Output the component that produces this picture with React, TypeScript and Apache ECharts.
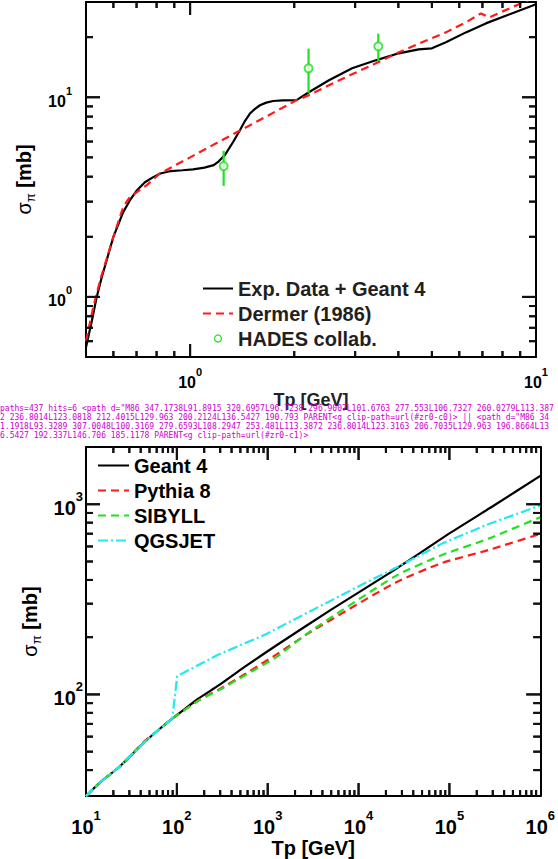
import React, { useEffect, useRef } from 'react';
import * as echarts from 'echarts';

// ---------- top panel (pp -> pi0, low energy) ----------
const expGeantE = [0.5, 0.52, 0.537, 0.555, 0.574, 0.6, 0.64, 0.67, 0.7, 0.74, 0.78, 0.82, 0.88, 0.95, 1.02, 1.1, 1.17, 1.21, 1.26, 1.33, 1.393, 1.44, 1.489, 1.54, 1.592, 1.66, 1.739, 1.85, 2.03, 2.21, 2.52, 2.94, 3.44, 4.01, 4.58, 5.0, 5.49, 6.27, 7.16, 8.51, 10];
const expGeantSigma = [0.56, 0.76, 1.0, 1.25, 1.53, 2.0, 2.65, 3.05, 3.4, 3.75, 3.97, 4.15, 4.27, 4.31, 4.35, 4.44, 4.57, 4.78, 5.13, 5.95, 6.84, 7.6, 8.29, 8.75, 9.12, 9.4, 9.58, 9.64, 9.68, 10.63, 12.16, 13.96, 15.31, 16.6, 17.38, 17.58, 18.84, 21.13, 23.44, 26.3, 29.2];

const dermerE = [0.5, 0.525, 0.55, 0.58, 0.6, 0.641, 0.67, 0.7, 0.749, 0.818, 1.0, 1.2, 1.4, 1.6, 1.8, 2.03, 2.205, 2.519, 2.936, 3.444, 4.014, 4.68, 5.49, 6.27, 6.93, 7.31, 8.51, 10];
const dermerSigma = [0.6, 0.89, 1.22, 1.65, 2.0, 2.83, 3.17, 3.34, 3.63, 4.15, 5.0, 5.93, 6.84, 7.74, 8.64, 9.66, 10.23, 11.48, 13.03, 14.79, 16.79, 18.84, 21.13, 23.71, 26.3, 25.1, 28.2, 31.9];

const hadesE = [1.25, 2.2, 3.5];
const hadesSigma = [4.52, 13.96, 17.99];
const hadesLow = [3.6, 10.51, 15.19];
const hadesHigh = [5.39, 17.52, 20.82];

const topXLabels = [1, 10];
const topYLabels = [1, 10];
const topXMinor = [0.6, 0.7, 0.8, 0.9, 2, 3, 4, 5, 6, 7, 8, 9];
const topYMinor = [0.6, 0.7, 0.8, 0.9, 2, 3, 4, 5, 6, 7, 8, 9, 20];

// ---------- bottom panel (high energy) ----------
const geant4E = [10, 14.2, 23.5, 42, 64, 89, 103, 175, 288, 562, 1265, 5000, 23700, 98000, 300000, 1000000];
const geant4Sigma = [29.2, 34.4, 41.8, 55, 65.6, 74.6, 78.7, 95.5, 111.5, 140, 182, 279, 445, 698, 976, 1410];

const pythiaE = [10, 14.2, 23.5, 42, 64, 89, 103, 175, 288, 562, 1265, 2917, 25700, 82800, 267000, 1000000];
const pythiaSigma = [29.2, 34.4, 41.8, 55.5, 65.6, 74.6, 78.5, 93.5, 106, 128, 163, 212, 388, 491, 574, 698];

const sibyllE = [10, 14.2, 23.5, 42, 64, 89, 103, 175, 288, 562, 1265, 2917, 25700, 82800, 267000, 1000000];
const sibyllSigma = [29.2, 34.4, 41.8, 55, 65.6, 74.6, 78.3, 93, 105, 126, 158, 214, 420, 541, 658, 855];

const qgsjetE = [10, 14.2, 23.5, 42, 64, 89, 101, 288, 929, 12100, 25700, 82800, 267000, 1000000];
const qgsjetSigma = [29.2, 34.4, 41.8, 55, 65.6, 74.6, 125, 162, 206, 388, 463, 621, 785, 985];

const botXLabels = [10, 100, 1000, 10000, 100000, 1000000];
const botYLabels = [100, 1000];
const botXMinor = [20, 30, 40, 50, 60, 70, 80, 90, 200, 300, 400, 500, 600, 700, 800, 900, 2000, 3000, 4000, 5000, 6000, 7000, 8000, 9000, 20000, 30000, 40000, 50000, 60000, 70000, 80000, 90000, 200000, 300000, 400000, 500000, 600000, 700000, 800000, 900000];
const botYMinor = [40, 50, 60, 70, 80, 90, 200, 300, 400, 500, 600, 700, 800, 900];

const FONT = "'Liberation Sans', Arial, Helvetica, sans-serif";
const RED = '#ff1a1a';
const GREEN = '#22e022';
const CYAN = '#22e8f0';

const TOP_X = [0.5, 10];
const TOP_Y = [0.5, 30];
const BOT_X = [10, 1000000];
const BOT_Y = [29.2, 2000];

const zip = (xs: number[], ys: number[]) => xs.map((x, i) => [x, ys[i]]);

const powLabel = (v: number) => {
  const l = Math.log10(v);
  const e = Math.round(l);
  if (Math.abs(l - e) > 1e-6) return '';
  return `{m|10}{s|${e}}`;
};

const rich = (fs: number, ss: number) => ({
  m: { fontSize: fs, fontWeight: 'bold', fontFamily: FONT, color: '#000', lineHeight: fs + 8, verticalAlign: 'bottom' },
  s: { fontSize: ss, fontWeight: 'bold', fontFamily: FONT, color: '#000', lineHeight: ss, verticalAlign: 'top' },
});

const nameRich = {
  g: { fontSize: 20, fontFamily: FONT, color: '#000', lineHeight: 26 },
  p: { fontSize: 13, fontFamily: FONT, color: '#000', lineHeight: 13, verticalAlign: 'bottom' },
  t: { fontSize: 20, fontWeight: 'bold', fontFamily: FONT, color: '#000', lineHeight: 26 },
};

function makeAxis(o: any) {
  return {
    type: 'log',
    logBase: 10,
    gridIndex: o.grid,
    position: o.position,
    min: o.range[0],
    max: o.range[1],
    axisLine: { show: true, onZero: false, lineStyle: { color: '#000', width: 2 } },
    splitLine: { show: false },
    axisTick: { show: false },
    axisLabel: o.labels
      ? {
          show: true,
          customValues: o.ticks,
          margin: o.margin,
          formatter: powLabel,
          rich: rich(o.fs, o.ss),
        }
      : { show: false },
    name: o.name || '',
    nameLocation: 'middle',
    nameGap: o.nameGap || 0,
    nameRotate: o.nameRotate,
    nameTextStyle: o.nameStyle,
  };
}

// tick items in data space: [x, y, dx(px), dy(px)]
function tickItems(xMajor: number[], xMinor: number[], yMajor: number[], yMinor: number[], xr: number[], yr: number[]) {
  const out: number[][] = [];
  const xs = (vals: number[], len: number) => vals.forEach((v) => {
    if (v <= xr[0] || v >= xr[1]) return;
    out.push([v, yr[0], 0, -len]);
    out.push([v, yr[1], 0, len]);
  });
  const ys = (vals: number[], len: number) => vals.forEach((v) => {
    if (v <= yr[0] || v >= yr[1]) return;
    out.push([xr[0], v, len, 0]);
    out.push([xr[1], v, -len, 0]);
  });
  xs(xMajor, 13); xs(xMinor, 6); ys(yMajor, 14); ys(yMinor, 7);
  return out;
}

const tickSeries = (idx: number, data: number[][]) => ({
  name: 'ticks' + idx, type: 'custom', xAxisIndex: idx, yAxisIndex: idx, z: 6, silent: true,
  data, encode: { x: 0, y: 1 },
  renderItem: (params: any, api: any) => {
    const p = api.coord([api.value(0), api.value(1)]);
    return { type: 'line', shape: { x1: p[0], y1: p[1], x2: p[0] + api.value(2), y2: p[1] + api.value(3) }, style: { stroke: '#000', lineWidth: 2 } };
  },
});

export default function App() {
  const ref = useRef<HTMLDivElement>(null);
  const dbgRef = useRef<HTMLDivElement>(null);
  useEffect(() => {
    if (!ref.current) return;
    const chart = echarts.init(ref.current, undefined, { renderer: 'svg' });
    const option: any = {
      animation: false,
      backgroundColor: '#fff',
      grid: [
        { left: 86, top: 2, width: 450, height: 355, containLabel: false },
        { left: 86, top: 447, width: 459, height: 360, containLabel: false },
      ],
      xAxis: [
        makeAxis({ grid: 0, position: 'bottom', range: TOP_X, ticks: topXLabels, labels: true, margin: 9, fs: 16, ss: 11,
          name: 'Tp [GeV]', nameGap: 29, nameStyle: { fontSize: 18, fontWeight: 'bold', fontFamily: FONT, color: '#222' } }),
        makeAxis({ grid: 0, position: 'top', range: TOP_X, ticks: topXLabels, labels: false }),
        makeAxis({ grid: 1, position: 'bottom', range: BOT_X, ticks: botXLabels, labels: true, margin: 13, fs: 20, ss: 13,
          name: 'Tp [GeV]', nameGap: 29, nameStyle: { fontSize: 20, fontWeight: 'bold', fontFamily: FONT, color: '#000' } }),
        makeAxis({ grid: 1, position: 'top', range: BOT_X, ticks: botXLabels, labels: false }),
      ],
      yAxis: [
        makeAxis({ grid: 0, position: 'left', range: TOP_Y, ticks: topYLabels, labels: true, margin: 14, fs: 16, ss: 11,
          name: '{g|σ}{p|π}{t| [mb]}', nameGap: 46, nameRotate: 90, nameStyle: { rich: nameRich } }),
        makeAxis({ grid: 0, position: 'right', range: TOP_Y, ticks: topYLabels, labels: false }),
        makeAxis({ grid: 1, position: 'left', range: BOT_Y, ticks: botYLabels, labels: true, margin: 3, fs: 20, ss: 13,
          name: '{g|σ}{p|π}{t| [mb]}', nameGap: 41, nameRotate: 90, nameStyle: { rich: nameRich } }),
        makeAxis({ grid: 1, position: 'right', range: BOT_Y, ticks: botYLabels, labels: false }),
      ],
      legend: [
        {
          left: 202, top: 276, orient: 'vertical', padding: 0, itemGap: 0, itemWidth: 30, itemHeight: 7,
          selectedMode: false,
          itemStyle: { opacity: 0 },
          textStyle: { fontSize: 20, fontWeight: 'bold', fontFamily: FONT, color: '#231f20', lineHeight: 25 },
          data: [
            { name: 'Exp. Data + Geant 4' },
            { name: 'Dermer (1986)' },
            { name: 'HADES collab.', icon: 'circle', itemStyle: { opacity: 1, color: 'rgba(255,255,255,0)', borderColor: GREEN, borderWidth: 1.2 } },
          ],
        },
        {
          left: 97, top: 453, orient: 'vertical', padding: 0, itemGap: 0, itemWidth: 31, itemHeight: 7,
          selectedMode: false,
          itemStyle: { opacity: 0 },
          textStyle: { fontSize: 20, fontWeight: 'bold', fontFamily: FONT, color: '#000', lineHeight: 25 },
          data: ['Geant 4', 'Pythia 8', 'SIBYLL', 'QGSJET'],
        },
      ],
      series: [
        {
          name: 'Exp. Data + Geant 4', type: 'line', xAxisIndex: 0, yAxisIndex: 0, symbol: 'none', z: 3,
          lineStyle: { color: '#000', width: 2.2 }, itemStyle: { color: '#000' },
          data: zip(expGeantE, expGeantSigma),
        },
        {
          name: 'Dermer (1986)', type: 'line', xAxisIndex: 0, yAxisIndex: 0, symbol: 'none', z: 3,
          lineStyle: { color: RED, width: 2.2, type: [8, 5] }, itemStyle: { color: RED },
          data: zip(dermerE, dermerSigma),
        },
        {
          name: 'HADES errors', type: 'custom', xAxisIndex: 0, yAxisIndex: 0, z: 4, silent: true,
          data: hadesE.map((e, i) => [e, hadesLow[i], hadesHigh[i]]),
          encode: { x: 0, y: [1, 2] },
          renderItem: (params: any, api: any) => {
            const lo = api.coord([api.value(0), api.value(1)]);
            const hi = api.coord([api.value(0), api.value(2)]);
            return { type: 'line', shape: { x1: lo[0], y1: lo[1], x2: hi[0], y2: hi[1] }, style: { stroke: GREEN, lineWidth: 2.2 } };
          },
        },
        {
          name: 'HADES collab.', type: 'scatter', xAxisIndex: 0, yAxisIndex: 0, z: 5,
          symbol: 'emptyCircle', symbolSize: 8,
          itemStyle: { color: GREEN, borderColor: GREEN, borderWidth: 2 },
          data: zip(hadesE, hadesSigma),
        },
        {
          name: 'Geant 4', type: 'line', xAxisIndex: 2, yAxisIndex: 2, symbol: 'none', z: 3, smooth: 0.2,
          lineStyle: { color: '#000', width: 2.2 }, itemStyle: { color: '#000' },
          data: zip(geant4E, geant4Sigma),
        },
        {
          name: 'Pythia 8', type: 'line', xAxisIndex: 2, yAxisIndex: 2, symbol: 'none', z: 3, smooth: 0.2,
          lineStyle: { color: RED, width: 2.2, type: [8, 5] }, itemStyle: { color: RED },
          data: zip(pythiaE, pythiaSigma),
        },
        {
          name: 'SIBYLL', type: 'line', xAxisIndex: 2, yAxisIndex: 2, symbol: 'none', z: 3, smooth: 0.2,
          lineStyle: { color: GREEN, width: 2.2, type: [8, 5] }, itemStyle: { color: GREEN },
          data: zip(sibyllE, sibyllSigma),
        },
        {
          name: 'QGSJET', type: 'line', xAxisIndex: 2, yAxisIndex: 2, symbol: 'none', z: 3,
          lineStyle: { color: CYAN, width: 2.2, type: [10, 3, 2, 3] }, itemStyle: { color: CYAN },
          data: zip(qgsjetE, qgsjetSigma),
        },
        tickSeries(0, tickItems(topXLabels, topXMinor, topYLabels, topYMinor, TOP_X, TOP_Y)),
        tickSeries(2, tickItems(botXLabels, botXMinor, botYLabels, botYMinor, BOT_X, BOT_Y)),
      ],
    };
    chart.setOption(option);

    // second copy of the ticks through the graphic component (near-black filled bars)
    const els: any[] = [];
    const addBars = (idx: number, items: number[][]) => items.forEach((it) => {
      const p = chart.convertToPixel({ xAxisIndex: idx, yAxisIndex: idx } as any, [it[0], it[1]]) as any;
      if (!p) return;
      const dx = it[2], dy = it[3];
      const w = 2;
      const x = dx === 0 ? p[0] - w / 2 : Math.min(p[0], p[0] + dx);
      const y = dy === 0 ? p[1] - w / 2 : Math.min(p[1], p[1] + dy);
      els.push({ type: 'rect', z: 60, shape: { x, y, width: dx === 0 ? w : Math.abs(dx), height: dy === 0 ? w : Math.abs(dy) }, style: { fill: '#111111' } });
    });
    addBars(0, tickItems(topXLabels, topXMinor, topYLabels, topYMinor, TOP_X, TOP_Y));
    addBars(2, tickItems(botXLabels, botXMinor, botYLabels, botYMinor, BOT_X, BOT_Y));
    chart.setOption({ graphic: { elements: els } });

    const report = () => {
      if (!dbgRef.current || !ref.current) return;
      const paths = Array.from(ref.current.querySelectorAll('path'));
      const hits = paths.filter((p) => (p.getAttribute('d') || '').indexOf('113.38') >= 0 || (p.getAttribute('d') || '').indexOf('112.38') >= 0);
      const info = hits.slice(0, 2).map((p) => {
        const par = p.parentElement;
        return p.outerHTML.slice(0, 160) + ' PARENT<' + (par ? par.tagName + ' ' + Array.from(par.attributes).map((a) => a.name + '=' + a.value).join(' ').slice(0, 120) : '') + '>';
      });
      dbgRef.current.textContent = 'paths=' + paths.length + ' hits=' + hits.length + ' ' + info.join(' || ');
    };
    report();
    const tmr = setTimeout(report, 300);
    return () => { clearTimeout(tmr); chart.dispose(); };
  }, []);
  return (
    <>
      <div ref={ref} style={{ position: 'absolute', left: 0, top: 0, width: 558, height: 859 }} />
      <div ref={dbgRef} style={{ position: 'absolute', left: 0, top: 404, width: 558, fontSize: 8, lineHeight: '9px', color: '#c0c', fontFamily: 'monospace', wordBreak: 'break-all' }} />
    </>
  );
}
